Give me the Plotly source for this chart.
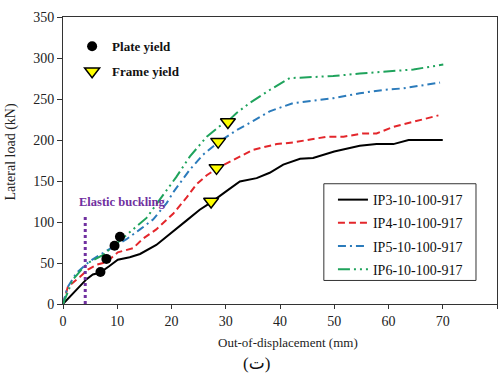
import plotly.graph_objects as go

# Load-displacement curves (out-of-plane displacement in mm, lateral load in kN)
ip3_x = [0, 4.3, 5.5, 6.8, 8.5, 10.1, 12.3, 14.2, 17.2, 20.3, 22.8, 25.2, 27.3, 30, 32.6, 35.7, 38.1, 40.6, 43.7, 46.1, 50, 54.7, 57.8, 60.9, 63.7, 70]
ip3_y = [0, 30, 36, 38, 46, 54, 57, 61, 72, 88, 102, 115, 124, 137, 149.5, 153.5, 160, 170, 177, 178, 186, 193, 195, 195, 200, 200]

ip4_x = [0, 0.9, 3.1, 4.6, 6.2, 8, 10.1, 12.9, 14.8, 17.2, 20.3, 22.8, 24.6, 26.5, 28.3, 31.4, 35, 39.4, 42.4, 48.6, 51.7, 55.3, 57.8, 60.9, 64, 69.2]
ip4_y = [0, 21, 33, 42, 48, 51, 63, 68, 80, 91, 110, 130, 146, 157, 165, 176, 188, 195, 197, 204, 204, 208, 208, 216, 221, 230]

ip5_x = [0, 0.8, 2.5, 4.9, 6.8, 9.5, 11.7, 14.2, 16.6, 19.1, 20.3, 23.4, 25.8, 28.6, 32, 35, 38.1, 42.4, 46.8, 49.8, 54.7, 59, 62.7, 69.5]
ip5_y = [0, 20, 38, 52, 60, 70, 79, 91, 103, 123, 136, 164, 182, 197, 212, 223, 235, 245, 249, 251, 257, 261, 263, 270]

ip6_x = [0, 1.8, 3.4, 4.6, 7.4, 9.2, 12.9, 15.4, 17.8, 20.9, 23.4, 26.5, 28.9, 30.4, 32, 34.4, 38.1, 41.8, 43.7, 49.8, 54.7, 61.5, 64.6, 70.1]
ip6_y = [0, 29.6, 42, 50, 60, 70, 90.6, 105, 127, 155, 180, 204, 217, 223, 233, 245, 261, 275.6, 276, 278, 281, 284, 286, 292]

# Yield points
plate_x = [6.9, 8.0, 9.5, 10.5]
plate_y = [39, 55, 71, 82]
frame_x = [27.3, 28.3, 28.6, 30.4]
frame_y = [125, 166, 198, 222]

# Elastic buckling marker line
buckling_x = [4.1, 4.1]
buckling_y = [0, 109]

x_ticks = [0, 10, 20, 30, 40, 50, 60, 70, 80]
y_ticks = [0, 50, 100, 150, 200, 250, 300, 350]

SERIF = "'Liberation Serif', 'DejaVu Serif', serif"

fig = go.Figure()

series = [
    ("IP3-10-100-917", ip3_x, ip3_y, "#000000", "solid"),
    ("IP4-10-100-917", ip4_x, ip4_y, "#e3262b", "7px,4px"),
    ("IP5-10-100-917", ip5_x, ip5_y, "#2b7bbb", "8px,4px,2px,4px"),
    ("IP6-10-100-917", ip6_x, ip6_y, "#1fa35c", "12px,4px,2px,4px,2px,4px"),
]
for name, xs, ys, col, dash in series:
    fig.add_trace(go.Scatter(
        x=xs, y=ys, mode="lines", name=name, legendgroup=name,
        line=dict(color=col, width=2, dash=dash),
        legend="legend",
    ))

fig.add_trace(go.Scatter(
    x=buckling_x, y=buckling_y, mode="lines", showlegend=False,
    line=dict(color="#7030a0", width=3, dash="dot"),
))

fig.add_trace(go.Scatter(
    x=plate_x, y=plate_y, mode="markers", name="Plate yield", legendgroup="plate",
    marker=dict(symbol="circle", size=10, color="#000000"),
    legend="legend2",
))
fig.add_trace(go.Scatter(
    x=frame_x, y=frame_y, mode="markers", name="Frame yield", legendgroup="frame",
    marker=dict(symbol="triangle-down", size=13, color="#ffff00",
                line=dict(color="#000000", width=1.5)),
    legend="legend2",
))

fig.add_annotation(
    x=10.9, y=124, xref="x", yref="y", text="<b>Elastic buckling</b>",
    xanchor="center", yanchor="middle",
    showarrow=False, font=dict(family=SERIF, size=12.5, color="#7030a0"),
)

# Axis titles and panel label
fig.add_annotation(
    x=-0.1206, y=0.53, xref="paper", yref="paper", text="Lateral load (kN)",
    xanchor="center", yanchor="middle",
    textangle=-90, showarrow=False, font=dict(family=SERIF, size=14, color="#222222"),
)
fig.add_annotation(
    x=0.518, y=-0.134, xref="paper", yref="paper", text="Out-of-displacement (mm)",
    xanchor="center", yanchor="middle",
    showarrow=False, font=dict(family=SERIF, size=13, color="#222222"),
)
fig.add_annotation(
    x=0.446, y=-0.207, xref="paper", yref="paper", text="(ت)",
    xanchor="center", yanchor="middle",
    showarrow=False, font=dict(family="'Liberation Serif', 'DejaVu Sans', serif", size=17, color="#111111"),
)

# Frame around the series legend
fig.add_shape(
    type="rect", xref="paper", yref="paper",
    x0=0.601, x1=0.9516, y0=0.082, y1=0.419,
    line=dict(color="#333333", width=1), fillcolor="white", layer="below",
)

fig.update_layout(
    width=500, height=379,
    margin=dict(l=63, r=3, t=17, b=75),
    paper_bgcolor="white", plot_bgcolor="white",
    font=dict(family=SERIF, size=14, color="#222222"),
    legend=dict(
        x=0.622, y=0.418, xanchor="left", yanchor="top",
        bgcolor="rgba(0,0,0,0)", borderwidth=0,
        font=dict(family=SERIF, size=14, color="#111111"),
        tracegroupgap=2, itemwidth=30,
    ),
    legend2=dict(
        x=0.021, y=0.95, xanchor="left", yanchor="top",
        bgcolor="rgba(0,0,0,0)", borderwidth=0,
        font=dict(family=SERIF, size=13, color="#111111", weight="bold"),
        itemwidth=30, tracegroupgap=5,
    ),
    xaxis=dict(
        range=[0, 80], tickvals=x_ticks, showgrid=False, zeroline=False,
        showline=True, linecolor="#333333", linewidth=1, mirror=True,
        ticks="outside", ticklen=4, tickcolor="#333333",
        tickfont=dict(family=SERIF, size=14, color="#222222"),
    ),
    yaxis=dict(
        range=[0, 350], tickvals=y_ticks, showgrid=False, zeroline=False,
        showline=True, linecolor="#333333", linewidth=1, mirror=True,
        ticks="outside", ticklen=5, tickcolor="#333333",
        tickfont=dict(family=SERIF, size=14, color="#222222"),
    ),
)

fig.write_html("out.html")
